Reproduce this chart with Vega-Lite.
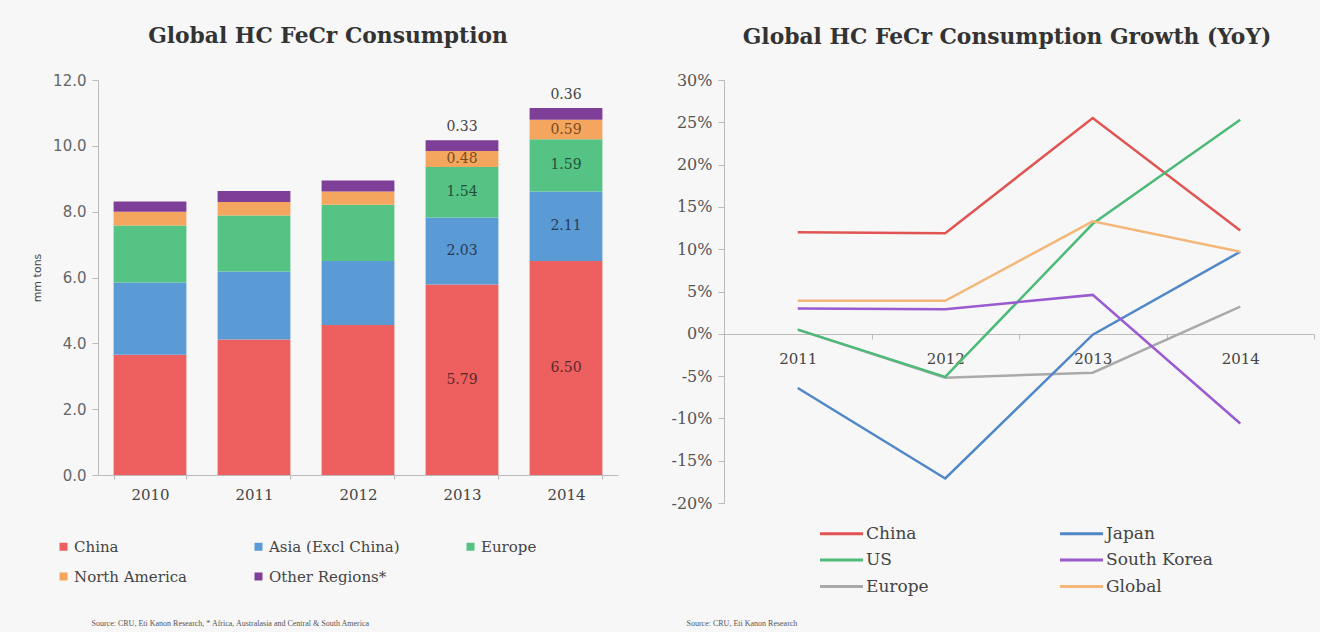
{
  "$schema": "https://vega.github.io/schema/vega-lite/v6.json",
  "background": "#f7f7f7",
  "padding": {"left": 31, "top": 26, "right": 5, "bottom": 5},
  "spacing": 53,
  "datasets": {
    "consumption": [
      {"year": "2010", "region": "China", "value": 3.65},
      {"year": "2010", "region": "Asia (Excl China)", "value": 2.2},
      {"year": "2010", "region": "Europe", "value": 1.73},
      {"year": "2010", "region": "North America", "value": 0.42},
      {"year": "2010", "region": "Other Regions*", "value": 0.31},
      {"year": "2011", "region": "China", "value": 4.12},
      {"year": "2011", "region": "Asia (Excl China)", "value": 2.06},
      {"year": "2011", "region": "Europe", "value": 1.7},
      {"year": "2011", "region": "North America", "value": 0.41},
      {"year": "2011", "region": "Other Regions*", "value": 0.34},
      {"year": "2012", "region": "China", "value": 4.56},
      {"year": "2012", "region": "Asia (Excl China)", "value": 1.94},
      {"year": "2012", "region": "Europe", "value": 1.71},
      {"year": "2012", "region": "North America", "value": 0.4},
      {"year": "2012", "region": "Other Regions*", "value": 0.34},
      {"year": "2013", "region": "China", "value": 5.79},
      {"year": "2013", "region": "Asia (Excl China)", "value": 2.03},
      {"year": "2013", "region": "Europe", "value": 1.54},
      {"year": "2013", "region": "North America", "value": 0.48},
      {"year": "2013", "region": "Other Regions*", "value": 0.33},
      {"year": "2014", "region": "China", "value": 6.5},
      {"year": "2014", "region": "Asia (Excl China)", "value": 2.11},
      {"year": "2014", "region": "Europe", "value": 1.59},
      {"year": "2014", "region": "North America", "value": 0.59},
      {"year": "2014", "region": "Other Regions*", "value": 0.36}
    ],
    "growth": [
      {"year": "2011", "country": "Europe", "pct": 0.5},
      {"year": "2012", "country": "Europe", "pct": -5.2},
      {"year": "2013", "country": "Europe", "pct": -4.6},
      {"year": "2014", "country": "Europe", "pct": 3.2},
      {"year": "2011", "country": "China", "pct": 12.0},
      {"year": "2012", "country": "China", "pct": 11.9},
      {"year": "2013", "country": "China", "pct": 25.5},
      {"year": "2014", "country": "China", "pct": 12.2},
      {"year": "2011", "country": "Japan", "pct": -6.4},
      {"year": "2012", "country": "Japan", "pct": -17.1},
      {"year": "2013", "country": "Japan", "pct": -0.1},
      {"year": "2014", "country": "Japan", "pct": 9.7},
      {"year": "2011", "country": "US", "pct": 0.5},
      {"year": "2012", "country": "US", "pct": -5.1},
      {"year": "2013", "country": "US", "pct": 13.0},
      {"year": "2014", "country": "US", "pct": 25.3},
      {"year": "2011", "country": "South Korea", "pct": 3.0},
      {"year": "2012", "country": "South Korea", "pct": 2.9},
      {"year": "2013", "country": "South Korea", "pct": 4.6},
      {"year": "2014", "country": "South Korea", "pct": -10.6},
      {"year": "2011", "country": "Global", "pct": 3.9},
      {"year": "2012", "country": "Global", "pct": 3.9},
      {"year": "2013", "country": "Global", "pct": 13.3},
      {"year": "2014", "country": "Global", "pct": 9.7}
    ]
  },
  "config": {
    "view": {"stroke": null},
    "axis": {"domainColor": "#bbbbbb", "tickColor": "#bbbbbb", "grid": false, "labelColor": "#444444"}
  },
  "hconcat": [
    {
      "width": 520,
      "height": 395,
      "title": {"text": "Global HC FeCr Consumption", "font": "DejaVu Serif", "fontSize": 21.8, "fontWeight": "bold", "color": "#333333", "dx": -30, "offset": 25},
      "data": {"name": "consumption"},
      "transform": [{"window": [{"op": "row_number", "as": "rank"}], "groupby": ["year"]}],
      "layer": [
        {
          "mark": {"type": "bar"},
          "encoding": {
            "x": {"field": "year", "type": "ordinal", "scale": {"paddingInner": 0.3, "paddingOuter": 0.15},
              "axis": {"title": "Source: CRU, Eti Kanon Research, * Africa, Australasia and Central & South America", "titleFont": "Liberation Serif", "titleFontSize": 8, "titleFontWeight": "normal", "titleColor": "#555555", "titleAlign": "left", "titleAnchor": "start", "titleX": -7, "titleY": 148, "titleBaseline": "middle", "labelAngle": 0, "labelFont": "DejaVu Serif", "labelFontSize": 15, "labelPadding": 8, "tickBand": "extent", "tickSize": 4}},
            "y": {"field": "value", "type": "quantitative", "stack": "zero", "scale": {"domain": [0, 12]},
              "axis": {"title": "mm tons", "titleFont": "DejaVu Sans", "titleFontSize": 11, "titleFontWeight": "normal", "titleColor": "#444444", "titlePadding": 10, "values": [0, 2, 4, 6, 8, 10, 12], "format": ".1f", "labelFont": "DejaVu Sans", "labelFontSize": 15, "labelColor": "#666666", "tickSize": 6, "labelPadding": 6}},
            "order": {"field": "rank", "type": "quantitative"},
            "color": {"field": "region", "type": "nominal",
              "scale": {"domain": ["China", "Asia (Excl China)", "Europe", "North America", "Other Regions*"], "range": ["#ee5f5f", "#5a9bd5", "#55c384", "#f5a65e", "#7f3f98"]},
              "legend": {"orient": "none", "legendX": -42, "legendY": 459, "direction": "horizontal", "columns": 3, "columnPadding": 63, "rowPadding": 14, "title": null, "symbolType": "square", "symbolSize": 64, "symbolStrokeWidth": 0, "labelFont": "DejaVu Serif", "labelFontSize": 15, "labelColor": "#444444", "labelOffset": 3}}
          }
        },
        {
          "transform": [{"filter": "datum.year == '2013' || datum.year == '2014'"}],
          "mark": {"type": "text", "font": "DejaVu Serif", "fontSize": 14, "baseline": "middle"},
          "encoding": {
            "x": {"field": "year", "type": "ordinal"},
            "y": {"field": "value", "type": "quantitative", "stack": "zero", "bandPosition": 0.5},
            "order": {"field": "rank", "type": "quantitative"},
            "color": {"field": "region", "type": "nominal",
              "scale": {"domain": ["China", "Asia (Excl China)", "Europe", "North America", "Other Regions*"], "range": ["#5a2a2a", "#2a3a55", "#24503a", "#7a4a20", "#444444"]}, "legend": null},
            "text": {"condition": {"test": "datum.region == 'Other Regions*'", "value": ""}, "field": "value", "type": "quantitative", "format": ".2f"}
          }
        },
        {
          "transform": [{"filter": "datum.year == '2013' || datum.year == '2014'"}],
          "mark": {"type": "text", "font": "DejaVu Serif", "fontSize": 14, "baseline": "bottom", "dy": -6, "color": "#444444"},
          "encoding": {
            "x": {"field": "year", "type": "ordinal"},
            "y": {"field": "value", "type": "quantitative", "stack": "zero"},
            "order": {"field": "rank", "type": "quantitative"},
            "detail": {"field": "region", "type": "nominal"},
            "text": {"condition": {"test": "datum.region != 'Other Regions*'", "value": ""}, "field": "value", "type": "quantitative", "format": ".2f"}
          }
        }
      ],
      "resolve": {"scale": {"color": "independent"}}
    },
    {
      "width": 590,
      "height": 423,
      "title": {"text": "Global HC FeCr Consumption Growth (YoY)", "font": "DejaVu Serif", "fontSize": 21.8, "fontWeight": "bold", "color": "#333333", "dx": -12, "offset": 23},
      "data": {"name": "growth"},
      "mark": {"type": "line", "strokeWidth": 2.5},
      "encoding": {
        "x": {"field": "year", "type": "ordinal", "scale": {"type": "band", "paddingInner": 0, "paddingOuter": 0},
          "axis": {"title": "Source: CRU, Eti Kanon Research", "titleFont": "Liberation Serif", "titleFontSize": 8, "titleFontWeight": "normal", "titleColor": "#555555", "titleAlign": "left", "titleAnchor": "start", "titleX": -38, "titleY": 289, "titleBaseline": "middle", "offset": -169, "labelAngle": 0, "labelFont": "DejaVu Serif", "labelFontSize": 15, "labelPadding": 12, "tickBand": "extent", "tickSize": 5}},
        "y": {"field": "pct", "type": "quantitative", "scale": {"domain": [-20, 30]},
          "axis": {"title": null, "values": [-20, -15, -10, -5, 0, 5, 10, 15, 20, 25, 30], "labelExpr": "datum.value + '%'", "labelFont": "DejaVu Serif", "labelFontSize": 16, "labelColor": "#555555", "tickSize": 6, "labelPadding": 6}},
        "color": {"field": "country", "type": "nominal",
          "scale": {"domain": ["China", "Japan", "US", "South Korea", "Europe", "Global"], "range": ["#e05553", "#4f87c7", "#4dba78", "#9a5ad0", "#aaaaaa", "#f4b77a"]},
          "legend": {"orient": "none", "legendX": 106, "legendY": 442, "direction": "horizontal", "columns": 2, "columnPadding": 125, "rowPadding": 6.5, "title": null, "symbolType": "M-2.15,0L2.15,0", "symbolSize": 400, "symbolStrokeWidth": 3, "labelFont": "DejaVu Serif", "labelFontSize": 17, "labelColor": "#444444", "labelOffset": 13}}
      }
    }
  ],
  "resolve": {"legend": {"color": "independent"}, "scale": {"color": "independent"}}
}
